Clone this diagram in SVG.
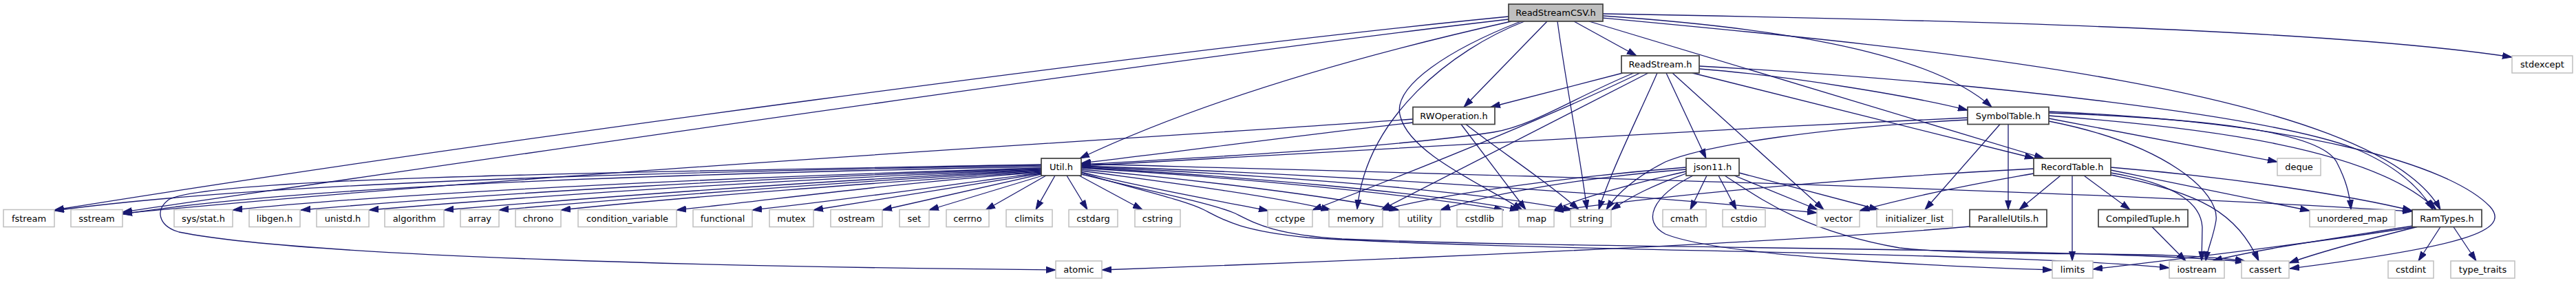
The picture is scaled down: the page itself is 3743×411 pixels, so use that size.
<svg xmlns="http://www.w3.org/2000/svg" width="3743" height="411" viewBox="0 0 3743 411">
<defs>
<style>
.e path{fill:none;stroke:#191970;stroke-width:1.3;marker-end:url(#ah)}
.n rect{fill:#ffffff;stroke:#bfbfbf;stroke-width:1.5}
.n.i rect{stroke:#404040;stroke-width:1.7}
.n.r rect{fill:#bfbfbf;stroke:#404040;stroke-width:1.7}
.n text{font-family:"DejaVu Sans","Liberation Sans",sans-serif;font-size:13px;fill:#000;text-anchor:middle}
</style>
<marker id="ah" markerWidth="14" markerHeight="10" refX="14" refY="5" orient="auto" markerUnits="userSpaceOnUse">
<path d="M0,0.5 L14,5 L0,9.5 Z" fill="#191970" stroke="#191970" stroke-width="1"/>
</marker>
</defs>
<rect x="0" y="0" width="3743" height="411" fill="#ffffff"/>
<g id="edges" class="e">
<path d="M2192,24 C1700,72 700,205 79,305"/>
<path d="M2192,28 C1700,85 750,225 178,308"/>
<path d="M2196,31 C2000,75 1760,140 1569,230"/>
<path d="M2215,31 C2110,72 1985,170 1972,304"/>
<path d="M2210,31 C2110,70 2020,125 2035,170 C2050,225 2160,270 2212,305"/>
<path d="M2248,31 L2127,155.5"/>
<path d="M2263,31 C2275,120 2295,220 2306,304.5"/>
<path d="M2287,31 L2378,81"/>
<path d="M2309,31 L2970,230"/>
<path d="M2329,20 C2900,30 3400,45 3650,83"/>
<path d="M2329,23 C2550,38 2800,70 2894,155.5"/>
<path d="M2329,26 C2800,70 3450,130 3546,304.5"/>
<path d="M2358,106 L2166,155.5"/>
<path d="M2374,106 C2290,140 2230,182 2170,192 C2040,212 1800,226 1571,239"/>
<path d="M2383,106 C2250,170 2050,250 1907,305"/>
<path d="M2395,106 L2007,304.5"/>
<path d="M2408,106 C2380,170 2340,250 2323,304.5"/>
<path d="M2421,106 L2479,230"/>
<path d="M2430,106 L2650,304.5"/>
<path d="M2469,100 C2600,110 2780,140 2859,160"/>
<path d="M2459,106 L2956,230"/>
<path d="M2469,96 C2900,120 3300,170 3420,215 C3480,240 3515,270 3535,304.5"/>
<path d="M2053,173 C1600,205 800,250 178,310"/>
<path d="M2053,178 C1900,195 1700,222 1571,237"/>
<path d="M2123,180.5 L2217,304.5"/>
<path d="M2130,180.5 C2180,220 2250,265 2294,304.5"/>
<path d="M2859,171 C2400,192 1900,220 1571,241"/>
<path d="M2859,174 C2650,185 2480,210 2420,235 C2380,255 2350,280 2334,304.5"/>
<path d="M2906,180.5 L2797,304.5"/>
<path d="M2918,180.5 L2918,304.5"/>
<path d="M2977,164 C3200,172 3370,190 3395,235 C3408,260 3414,280 3416,304.5"/>
<path d="M2977,168 C3200,185 3450,215 3540,304.5"/>
<path d="M2977,172 L3309,235"/>
<path d="M2977,176 C3150,210 3225,280 3220,320 C3216,345 3208,360 3205,379"/>
<path d="M2977,162 C3350,178 3560,240 3618,300 C3650,335 3580,358 3327,390"/>
<path d="M2955,245 C2700,258 2450,280 2258,306"/>
<path d="M2955,252 C2850,270 2760,290 2702,306"/>
<path d="M2994,255 L2934,304.5"/>
<path d="M3011,255 L3011,379"/>
<path d="M3028,255 L3095,304.5"/>
<path d="M3067,243 C3250,258 3420,285 3505,306"/>
<path d="M3067,247 L3356,306"/>
<path d="M3067,251 C3150,265 3198,290 3200,330 L3199,379"/>
<path d="M3067,254 C3200,280 3250,310 3282,379"/>
<path d="M2862,329 C2600,352 2000,378 1601,392"/>
<path d="M3127,329.5 L3176,379"/>
<path d="M3506,328 C3400,345 3280,362 3215,379"/>
<path d="M3512,329.5 C3430,350 3370,366 3326,382"/>
<path d="M3506,330 C3350,355 3150,378 3041,391"/>
<path d="M3546,329.5 L3514,379"/>
<path d="M3565,329.5 L3598,379"/>
<path d="M2480,255 L2456,304.5"/>
<path d="M2497,255 L2523,304.5"/>
<path d="M2520,255 L2641,304.5"/>
<path d="M2527,251 L2730,304.5"/>
<path d="M2460,255 C2400,285 2385,322 2420,340 C2500,372 2800,386 2982,392"/>
<path d="M2506,255 C2560,290 2620,335 2760,360 C2900,375 3150,362 3262,379"/>
<path d="M2450,243 C2300,255 2100,280 2009,305"/>
<path d="M2450,246 C2300,258 2170,280 2093,305"/>
<path d="M2450,249 C2380,265 2300,285 2258,305"/>
<path d="M2450,252 C2400,270 2370,285 2341,305"/>
<path d="M1513,240 C1000,250 400,262 79,306"/>
<path d="M1513,242 C1000,252 450,268 178,311"/>
<path d="M1513,244 C1100,256 600,278 338,305"/>
<path d="M1513,245 C1100,258 700,282 437,305"/>
<path d="M1513,246 C1150,260 800,283 536,305"/>
<path d="M1513,247 C1200,262 900,284 645,305"/>
<path d="M1513,248 C1250,263 950,285 725,305"/>
<path d="M1513,249 C1300,264 1000,285 815,305"/>
<path d="M1513,250 C1300,266 1150,287 983,305"/>
<path d="M1513,251 C1380,268 1250,288 1093,305"/>
<path d="M1513,252 L1182,305"/>
<path d="M1513,253 L1282,305"/>
<path d="M1515,255 L1350,305"/>
<path d="M1520,255 L1432,305"/>
<path d="M1533,255 L1505,304.5"/>
<path d="M1550,255 L1580,304.5"/>
<path d="M1568,255 L1660,304.5"/>
<path d="M1513,239 C900,250 300,258 245,290 C225,305 230,328 260,337 C450,375 1100,388 1534,392"/>
<path d="M1571,250 C1650,270 1760,290 1843,306"/>
<path d="M1571,248 C1700,265 1850,285 1934,305"/>
<path d="M1571,246 C1750,262 1930,285 2033,305"/>
<path d="M1571,244 C1800,258 2050,282 2185,305"/>
<path d="M1571,243 C1800,256 2080,280 2208,305"/>
<path d="M1571,242 C1850,254 2150,278 2285,305"/>
<path d="M1571,241 C2000,255 2450,290 2640,309"/>
<path d="M1571,238 C2200,255 3000,275 3505,307"/>
<path d="M1571,251 C1650,275 1720,290 1750,305 C1775,318 1800,335 1900,345 C2200,365 2900,365 3152,389"/>
<path d="M1571,253 C1680,280 1760,295 1795,310 C1825,325 1850,340 1950,347 C2300,362 3000,358 3262,380"/>
</g>
<g id="n_root" class="n r"><rect x="2192" y="6" width="137" height="25"/><text x="2260.5" y="23">ReadStreamCSV.h</text></g>
<g id="n_readstream" class="n i"><rect x="2356" y="81" width="113" height="25"/><text x="2412.5" y="98">ReadStream.h</text></g>
<g id="n_stdexcept" class="n"><rect x="3650" y="81" width="88" height="25"/><text x="3694" y="98">stdexcept</text></g>
<g id="n_rwoperation" class="n i"><rect x="2053" y="155.5" width="119" height="25"/><text x="2112.5" y="172.5">RWOperation.h</text></g>
<g id="n_symboltable" class="n i"><rect x="2859" y="155.5" width="118" height="25"/><text x="2918" y="172.5">SymbolTable.h</text></g>
<g id="n_util" class="n i"><rect x="1513" y="230" width="58" height="25"/><text x="1542" y="247">Util.h</text></g>
<g id="n_json11" class="n i"><rect x="2450" y="230" width="77" height="25"/><text x="2488.5" y="247">json11.h</text></g>
<g id="n_recordtable" class="n i"><rect x="2955" y="230" width="112" height="25"/><text x="3011" y="247">RecordTable.h</text></g>
<g id="n_deque" class="n"><rect x="3309" y="230" width="63" height="25"/><text x="3340.5" y="247">deque</text></g>
<g id="n_fstream" class="n"><rect x="5" y="304.5" width="74" height="25"/><text x="42" y="321.5">fstream</text></g>
<g id="n_sstream" class="n"><rect x="103" y="304.5" width="75" height="25"/><text x="140.5" y="321.5">sstream</text></g>
<g id="n_sysstat" class="n"><rect x="253" y="304.5" width="85" height="25"/><text x="295.5" y="321.5">sys/stat.h</text></g>
<g id="n_libgen" class="n"><rect x="362" y="304.5" width="74" height="25"/><text x="399" y="321.5">libgen.h</text></g>
<g id="n_unistd" class="n"><rect x="460" y="304.5" width="76" height="25"/><text x="498" y="321.5">unistd.h</text></g>
<g id="n_algorithm" class="n"><rect x="559" y="304.5" width="86" height="25"/><text x="602" y="321.5">algorithm</text></g>
<g id="n_array" class="n"><rect x="669" y="304.5" width="56" height="25"/><text x="697" y="321.5">array</text></g>
<g id="n_chrono" class="n"><rect x="749" y="304.5" width="66" height="25"/><text x="782" y="321.5">chrono</text></g>
<g id="n_condvar" class="n"><rect x="840" y="304.5" width="143" height="25"/><text x="911.5" y="321.5">condition_variable</text></g>
<g id="n_functional" class="n"><rect x="1007" y="304.5" width="86" height="25"/><text x="1050" y="321.5">functional</text></g>
<g id="n_mutex" class="n"><rect x="1118" y="304.5" width="64" height="25"/><text x="1150" y="321.5">mutex</text></g>
<g id="n_ostream" class="n"><rect x="1207" y="304.5" width="75" height="25"/><text x="1244.5" y="321.5">ostream</text></g>
<g id="n_set" class="n"><rect x="1307" y="304.5" width="43" height="25"/><text x="1328.5" y="321.5">set</text></g>
<g id="n_cerrno" class="n"><rect x="1375" y="304.5" width="62" height="25"/><text x="1406" y="321.5">cerrno</text></g>
<g id="n_climits" class="n"><rect x="1462" y="304.5" width="67" height="25"/><text x="1495.5" y="321.5">climits</text></g>
<g id="n_cstdarg" class="n"><rect x="1553" y="304.5" width="71" height="25"/><text x="1588.5" y="321.5">cstdarg</text></g>
<g id="n_cstring" class="n"><rect x="1649" y="304.5" width="66" height="25"/><text x="1682" y="321.5">cstring</text></g>
<g id="n_cctype" class="n"><rect x="1842" y="304.5" width="65" height="25"/><text x="1874.5" y="321.5">cctype</text></g>
<g id="n_memory" class="n"><rect x="1931" y="304.5" width="78" height="25"/><text x="1970" y="321.5">memory</text></g>
<g id="n_utility" class="n"><rect x="2033" y="304.5" width="60" height="25"/><text x="2063" y="321.5">utility</text></g>
<g id="n_cstdlib" class="n"><rect x="2117" y="304.5" width="66" height="25"/><text x="2150" y="321.5">cstdlib</text></g>
<g id="n_map" class="n"><rect x="2207" y="304.5" width="51" height="25"/><text x="2232.5" y="321.5">map</text></g>
<g id="n_string" class="n"><rect x="2282" y="304.5" width="59" height="25"/><text x="2311.5" y="321.5">string</text></g>
<g id="n_cmath" class="n"><rect x="2416" y="304.5" width="63" height="25"/><text x="2447.5" y="321.5">cmath</text></g>
<g id="n_cstdio" class="n"><rect x="2503" y="304.5" width="62" height="25"/><text x="2534" y="321.5">cstdio</text></g>
<g id="n_vector" class="n"><rect x="2640" y="304.5" width="62" height="25"/><text x="2671" y="321.5">vector</text></g>
<g id="n_initlist" class="n"><rect x="2727" y="304.5" width="110" height="25"/><text x="2782" y="321.5">initializer_list</text></g>
<g id="n_parallelutils" class="n i"><rect x="2862" y="304.5" width="112" height="25"/><text x="2918" y="321.5">ParallelUtils.h</text></g>
<g id="n_compiledtuple" class="n i"><rect x="3049" y="304.5" width="130" height="25"/><text x="3114" y="321.5">CompiledTuple.h</text></g>
<g id="n_unorderedmap" class="n"><rect x="3356" y="304.5" width="124" height="25"/><text x="3418" y="321.5">unordered_map</text></g>
<g id="n_ramtypes" class="n i"><rect x="3505" y="304.5" width="101" height="25"/><text x="3555.5" y="321.5">RamTypes.h</text></g>
<g id="n_atomic" class="n"><rect x="1534" y="379" width="67" height="25"/><text x="1567.5" y="396">atomic</text></g>
<g id="n_limits" class="n"><rect x="2982" y="379" width="59" height="25"/><text x="3011.5" y="396">limits</text></g>
<g id="n_iostream" class="n"><rect x="3152" y="379" width="80" height="25"/><text x="3192" y="396">iostream</text></g>
<g id="n_cassert" class="n"><rect x="3257" y="379" width="69" height="25"/><text x="3291.5" y="396">cassert</text></g>
<g id="n_cstdint" class="n"><rect x="3470" y="379" width="66" height="25"/><text x="3503" y="396">cstdint</text></g>
<g id="n_typetraits" class="n"><rect x="3561" y="379" width="93" height="25"/><text x="3607.5" y="396">type_traits</text></g>
</svg>
